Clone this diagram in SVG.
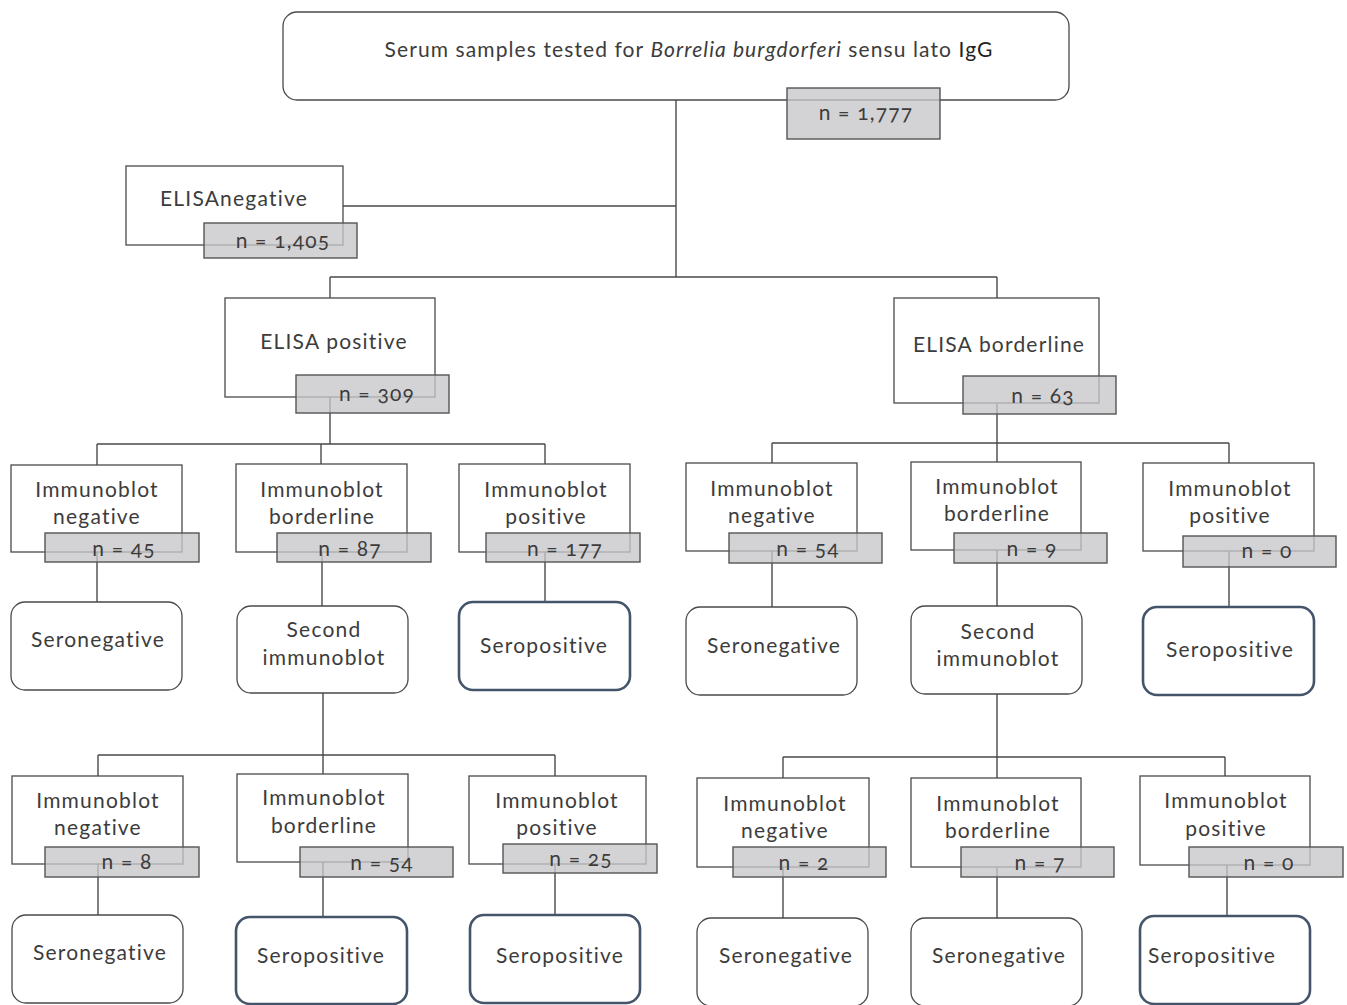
<svg xmlns="http://www.w3.org/2000/svg" width="1347" height="1005" viewBox="0 0 1347 1005">
<style>
text{font-family:Lato,"Open Sans","Liberation Sans",sans-serif;font-size:21px;fill:#3c3c3c;text-anchor:middle;font-variant-numeric:oldstyle-nums;letter-spacing:1.2px}
.box{fill:#fff;stroke:#4a4a4a;stroke-width:1.3}
.rbox{fill:#fff;stroke:#4a4a4a;stroke-width:1.3}
.pos{fill:#fff;stroke:#44546a;stroke-width:2.6}
.cnt{fill:#c6c7c9;fill-opacity:0.78;stroke:#555;stroke-width:1.4}
.c{fill:none;stroke:#4a4a4a;stroke-width:1.4}
</style>
<g id="connectors">
<path class="c" d="M676 100V277M343 206H676M330 277H997M330 277V298M997 277V298"/>
<path class="c" d="M330 397V444M97 444H545M97 444V465M321 444V464M545 444V464"/>
<path class="c" d="M997 403V443M772 443H1229M772 443V463M997 443V462M1229 443V463"/>
<path class="c" d="M97 552V602M322 552V606M545 552V602"/>
<path class="c" d="M772 551V607M997 550V606M1229 551V607"/>
<path class="c" d="M323 693V755M98 755H555M98 755V776M323 755V774M555 755V776"/>
<path class="c" d="M997 694V757M783 757H1225M783 757V778M997 757V778M1225 757V776"/>
<path class="c" d="M98 864V915M323 862V917M555 864V915"/>
<path class="c" d="M783 867V918M997 867V918M1227 865V916"/>
</g>
<g id="root">
<rect class="rbox" x="283" y="12" width="786" height="88" rx="14"/>
<text x="689" y="57" style="letter-spacing:1.1px">Serum samples tested for <tspan font-style="italic">Borrelia burgdorferi</tspan> sensu lato  <tspan fill="#222">IgG</tspan></text>
<rect class="cnt" x="787" y="88" width="153" height="51"/>
<text x="866" y="120">n = 1,777</text>
</g>
<g id="elisa-negative">
<rect class="box" x="126" y="166" width="217" height="79"/>
<text x="234" y="206">ELISAnegative</text>
<rect class="cnt" x="204" y="223" width="153" height="35"/>
<text x="283" y="248">n = 1,405</text>
</g>
<g id="elisa-positive">
<rect class="box" x="225" y="298" width="210" height="99"/>
<text x="334" y="349">ELISA positive</text>
<rect class="cnt" x="296" y="375" width="153" height="38"/>
<text x="377" y="401">n = 309</text>
</g>
<g id="elisa-borderline">
<rect class="box" x="894" y="298" width="205" height="105"/>
<text x="999" y="352">ELISA borderline</text>
<rect class="cnt" x="963" y="376" width="153" height="38"/>
<text x="1043" y="403">n = 63</text>
</g>
<g id="ib1-neg-a">
<rect class="box" x="11" y="465" width="171" height="87"/>
<text x="97" y="497">Immunoblot</text><text x="97" y="524">negative</text>
<rect class="cnt" x="45" y="533" width="154" height="29"/>
<text x="124" y="556">n = 45</text>
</g>
<g id="ib1-bord-a">
<rect class="box" x="236" y="464" width="171" height="88"/>
<text x="322" y="497">Immunoblot</text><text x="322" y="524">borderline</text>
<rect class="cnt" x="277" y="533" width="154" height="29"/>
<text x="350" y="556">n = 87</text>
</g>
<g id="ib1-pos-a">
<rect class="box" x="459" y="464" width="171" height="88"/>
<text x="546" y="497">Immunoblot</text><text x="546" y="524">positive</text>
<rect class="cnt" x="486" y="533" width="154" height="29"/>
<text x="565" y="556">n = 177</text>
</g>
<g id="seroneg-a1">
<rect class="rbox" x="11" y="602" width="171" height="88" rx="14"/>
<text x="98" y="647">Seronegative</text>
</g>
<g id="second-a">
<rect class="rbox" x="237" y="606" width="171" height="87" rx="14"/>
<text x="324" y="637">Second</text><text x="324" y="665">immunoblot</text>
</g>
<g id="seropos-a1">
<rect class="pos" x="459" y="602" width="171" height="88" rx="14"/>
<text x="544" y="653">Seropositive</text>
</g>
<g id="ib1-neg-b">
<rect class="box" x="686" y="463" width="171" height="88"/>
<text x="772" y="496">Immunoblot</text><text x="772" y="523">negative</text>
<rect class="cnt" x="729" y="533" width="153" height="30"/>
<text x="808" y="556">n = 54</text>
</g>
<g id="ib1-bord-b">
<rect class="box" x="911" y="462" width="170" height="88"/>
<text x="997" y="494">Immunoblot</text><text x="997" y="521">borderline</text>
<rect class="cnt" x="954" y="533" width="153" height="30"/>
<text x="1032" y="556">n = 9</text>
</g>
<g id="ib1-pos-b">
<rect class="box" x="1143" y="463" width="171" height="88"/>
<text x="1230" y="496">Immunoblot</text><text x="1230" y="523">positive</text>
<rect class="cnt" x="1183" y="536" width="153" height="31"/>
<text x="1267" y="558">n = 0</text>
</g>
<g id="seroneg-b1">
<rect class="rbox" x="686" y="607" width="171" height="88" rx="14"/>
<text x="774" y="653">Seronegative</text>
</g>
<g id="second-b">
<rect class="rbox" x="911" y="606" width="171" height="88" rx="14"/>
<text x="998" y="639">Second</text><text x="998" y="666">immunoblot</text>
</g>
<g id="seropos-b1">
<rect class="pos" x="1143" y="607" width="171" height="88" rx="14"/>
<text x="1230" y="657">Seropositive</text>
</g>
<g id="ib2-neg-a">
<rect class="box" x="12" y="776" width="171" height="88"/>
<text x="98" y="808">Immunoblot</text><text x="98" y="835">negative</text>
<rect class="cnt" x="45" y="847" width="154" height="30"/>
<text x="127" y="869">n = 8</text>
</g>
<g id="ib2-bord-a">
<rect class="box" x="237" y="774" width="171" height="88"/>
<text x="324" y="805">Immunoblot</text><text x="324" y="833">borderline</text>
<rect class="cnt" x="300" y="847" width="153" height="30"/>
<text x="382" y="870">n = 54</text>
</g>
<g id="ib2-pos-a">
<rect class="box" x="469" y="776" width="177" height="88"/>
<text x="557" y="808">Immunoblot</text><text x="557" y="835">positive</text>
<rect class="cnt" x="503" y="844" width="154" height="29"/>
<text x="581" y="866">n = 25</text>
</g>
<g id="seroneg-a2">
<rect class="rbox" x="12" y="915" width="171" height="88" rx="14"/>
<text x="100" y="960">Seronegative</text>
</g>
<g id="seropos-a2">
<rect class="pos" x="236" y="917" width="171" height="87" rx="14"/>
<text x="321" y="963">Seropositive</text>
</g>
<g id="seropos-a3">
<rect class="pos" x="470" y="915" width="170" height="88" rx="14"/>
<text x="560" y="963">Seropositive</text>
</g>
<g id="ib2-neg-b">
<rect class="box" x="697" y="778" width="172" height="89"/>
<text x="785" y="811">Immunoblot</text><text x="785" y="838">negative</text>
<rect class="cnt" x="733" y="847" width="153" height="30"/>
<text x="804" y="870">n = 2</text>
</g>
<g id="ib2-bord-b">
<rect class="box" x="911" y="778" width="170" height="89"/>
<text x="998" y="811">Immunoblot</text><text x="998" y="838">borderline</text>
<rect class="cnt" x="961" y="847" width="153" height="30"/>
<text x="1040" y="870">n = 7</text>
</g>
<g id="ib2-pos-b">
<rect class="box" x="1140" y="776" width="170" height="89"/>
<text x="1226" y="808">Immunoblot</text><text x="1226" y="836">positive</text>
<rect class="cnt" x="1189" y="847" width="154" height="30"/>
<text x="1269" y="870">n = 0</text>
</g>
<g id="seroneg-b2">
<rect class="rbox" x="697" y="918" width="171" height="88" rx="14"/>
<text x="786" y="963">Seronegative</text>
</g>
<g id="seroneg-b3">
<rect class="rbox" x="911" y="918" width="171" height="88" rx="14"/>
<text x="999" y="963">Seronegative</text>
</g>
<g id="seropos-b2">
<rect class="pos" x="1140" y="916" width="170" height="88" rx="14"/>
<text x="1212" y="963">Seropositive</text>
</g>
</svg>
